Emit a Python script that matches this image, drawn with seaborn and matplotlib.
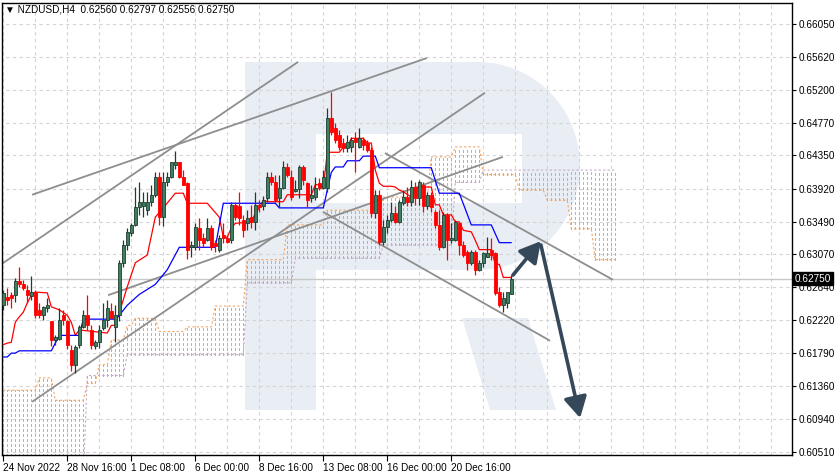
import numpy as np
import pandas as pd
import seaborn as sns
import matplotlib
matplotlib.use("Agg")
import matplotlib.pyplot as plt
from matplotlib.patches import Polygon, FancyArrowPatch

# ---------------- data ----------------
title = "\u25bc NZDUSD,H4  0.62560 0.62797 0.62556 0.62750"

opens = [.6241,.6252,.6254,.6254,.6272,.6268,.6261,.6253,.6258,.6235,
         .6229,.6238,.6220,.6196,.6197,.6229,.6220,.6183,.6164,.6190,
         .6213,.6228,.6209,.6188,.6194,.6212,.6222,.6233,.6213,.6229,
         .6296,.6319,.6335,.6345,.6368,.6369,.6364,.6374,.6384,.6407,
         .6355,.6400,.6407,.6423,.6426,.6407,.6399,.6316,.6316,.6341,
         .6328,.6326,.6341,.6322,.6313,.6332,.6328,.6326,.6371,.6369,
         .6351,.6347,.6355,.6349,.6371,.6369,.6380,.6407,.6400,.6380,
         .6393,.6420,.6407,.6389,.6392,.6420,.6399,.6380,.6381,.6399,
         .6393,.6393,.6484,.6470,.6462,.6451,.6445,.6446,.6457,.6446,
         .6455,.6451,.6442,.6361,.6384,.6323,.6342,.6351,.6361,.6349,
         .6373,.6381,.6374,.6394,.6380,.6397,.6369,.6384,.6362,.6345,
         .6316,.6358,.6326,.6326,.6348,.6319,.6310,.6296,.6310,.6287,
         .6296,.6304,.6313,.6309,.6258,.6241,.6244,.62560]
highs = [.6261,.6263,.6258,.6276,.6290,.6274,.6267,.6279,.6261,.6244,
         .6240,.6250,.6221,.6202,.6238,.6235,.6222,.6190,.6190,.6216,
         .6235,.6254,.6216,.6196,.6216,.6244,.6248,.6244,.6241,.6300,
         .6325,.6341,.6347,.6394,.6400,.6387,.6387,.6397,.6413,.6413,
         .6414,.6414,.6426,.6441,.6426,.6416,.6400,.6324,.6347,.6354,
         .6335,.6354,.6345,.6326,.6332,.6347,.6332,.6374,.6374,.6387,
         .6358,.6364,.6371,.6387,.6377,.6383,.6413,.6413,.6410,.6410,
         .6428,.6425,.6416,.6403,.6423,.6423,.6400,.6397,.6407,.6406,
         .6416,.6496,.6517,.6477,.6468,.6458,.6461,.6459,.6465,.6470,
         .6459,.6455,.6446,.6390,.6390,.6351,.6358,.6374,.6369,.6377,
         .6390,.6394,.6403,.6400,.6403,.6400,.6388,.6388,.6364,.6364,
         .6362,.6361,.6347,.6351,.6349,.6324,.6313,.6313,.6313,.6300,
         .6310,.6329,.6328,.6310,.6265,.6258,.6258,.62797]
lows = [.6235,.6241,.6238,.6245,.6264,.6261,.6244,.6248,.6225,.6225,
        .6222,.6232,.6188,.6190,.6196,.6216,.6184,.6156,.6153,.6186,
        .6212,.6209,.6184,.6184,.6186,.6209,.6213,.6225,.6193,.6220,
        .6290,.6313,.6331,.6344,.6358,.6355,.6358,.6369,.6381,.6345,
        .6344,.6395,.6406,.6417,.6406,.6396,.6301,.6303,.6313,.6313,
        .6316,.6324,.6313,.6310,.6310,.6322,.6322,.6322,.6351,.6345,
        .6329,.6338,.6341,.6338,.6362,.6364,.6374,.6397,.6374,.6368,
        .6392,.6407,.6377,.6388,.6380,.6397,.6368,.6374,.6377,.6390,
        .6392,.6388,.6461,.6451,.6442,.6440,.6440,.6440,.6414,.6445,
        .6442,.6440,.6355,.6354,.6319,.6319,.6335,.6349,.6348,.6348,
        .6371,.6369,.6369,.6371,.6371,.6362,.6366,.6362,.6341,.6313,
        .6315,.6300,.6322,.6324,.6306,.6304,.6287,.6293,.6280,.6285,
        .6291,.6304,.6300,.6254,.6239,.6232,.6238,.62556]
closes = [.6257,.6248,.6250,.6272,.6268,.6263,.6254,.6258,.6229,.6229,
          .6239,.6241,.6196,.6200,.6222,.6222,.6190,.6164,.6187,.6213,
          .6228,.6216,.6190,.6194,.6209,.6222,.6238,.6225,.6229,.6296,
          .6319,.6336,.6345,.6368,.6374,.6374,.6374,.6384,.6407,.6355,
          .6400,.6407,.6426,.6427,.6407,.6397,.6313,.6319,.6342,.6326,
          .6322,.6341,.6316,.6318,.6328,.6328,.6323,.6371,.6355,.6354,
          .6338,.6354,.6349,.6371,.6368,.6377,.6407,.6400,.6377,.6393,
          .6420,.6410,.6381,.6392,.6420,.6403,.6377,.6384,.6393,.6393,
          .6407,.6484,.6465,.6455,.6446,.6445,.6452,.6455,.6452,.6457,
          .6449,.6442,.6361,.6384,.6323,.6342,.6351,.6361,.6349,.6374,
          .6381,.6374,.6394,.6380,.6400,.6369,.6384,.6368,.6345,.6316,
          .6358,.6326,.6328,.6349,.6319,.6306,.6296,.6310,.6287,.6296,
          .6309,.6308,.6306,.6257,.6241,.6250,.6258,.62750]

# Ichimoku lines (bar index, price)
tenkan_bar = [0,1,2,3,4,5,6,7,8,11,12,14,16,17,18,19,26,27,28,29,30,31,33,36,38,40,43,45,46,51,52,54,55,56,57,58,62,63,64,65,66,70,71,77,78,79,80,81,84,85,86,87,90,91,92,93,94,95,97,98,99,100,102,103,104,107,108,109,110,112,113,114,115,117,118,119,122,123,124,125,127]
tenkan_val = [.6190,.6192,.6193,.6219,.6226,.6232,.6244,.6254,.6258,.6257,.6239,.6235,.6228,.6219,.6202,.6209,.6205,.6215,.6215,.6232,.6248,.6265,.6296,.6306,.6355,.6367,.6386,.6386,.6373,.6373,.6367,.6355,.6329,.6329,.6341,.6347,.6349,.6360,.6367,.6377,.6375,.6375,.6384,.6384,.6397,.6397,.6393,.6439,.6439,.6446,.6446,.6457,.6457,.6451,.6451,.6416,.6399,.6395,.6395,.6394,.6390,.6388,.6381,.6390,.6394,.6394,.6371,.6371,.6358,.6358,.6349,.6349,.6338,.6336,.6325,.6313,.6313,.6294,.6294,.6277,.6277]
kijun_bar = [0,1,2,3,4,12,14,19,20,28,29,31,34,38,41,44,53,55,63,68,69,80,82,83,85,86,89,90,93,94,107,109,114,117,122,124,127]
kijun_val = [.6174,.6174,.6179,.6179,.6182,.6182,.6202,.6202,.6223,.6223,.6228,.6241,.6255,.6268,.6287,.6316,.6316,.6373,.6373,.6373,.6367,.6367,.6413,.6420,.6420,.6428,.6428,.6434,.6434,.6419,.6419,.6386,.6386,.6345,.6345,.6322,.6322]

# cloud spans as runs (value, number of bars)
span_a_runs = [(.6131,9),(.6147,4),(.6118,8),(.6140,3),(.6164,3),(.6196,4),(.6215,2),(.6224,6),(.6207,7),(.6213,7),(.6240,8),(.6300,10),(.6345,10),(.6364,14),(.6381,12),(.6433,6),(.6446,7),(.6410,9),(.6390,7),(.6377,6),(.6340,6),(.6300,6)]
span_b_runs = [(.6015,21),(.6150,10),(.6177,30),(.6270,12),(.6302,22),(.6319,18),(.6400,7),(.6416,34)]

x_tick_bars = [0,16,32,48,64,80,96,112]
x_tick_labels = ["24 Nov 2022","28 Nov 16:00","1 Dec 08:00","6 Dec 00:00","8 Dec 16:00","13 Dec 08:00","16 Dec 00:00","20 Dec 16:00"]
y_ticks = [0.66050,0.65620,0.65200,0.64770,0.64350,0.63920,0.63490,0.63070,0.62640,0.62220,0.61790,0.61360,0.60940,0.60510]
last_price = 0.62750

# trend lines and arrows (bar, price) pairs
trend_lines = [((7.2,.6384),(105.9,.6561)),((-0.8,.6293),(73.7,.6556)),((7.2,.6116),(120.4,.6516)),
               ((26.2,.6254),(124.9,.6433)),((95.4,.6438),(152.4,.6274)),((79.9,.6362),(136.7,.6195))]
arrows = [((127.4,.6280),(134.4,.6324)),((134.4,.6319),(144.2,.6095))]

# ---------------- figure ----------------
sns.set_style("white")
plt.rcParams['font.family'] = ['Liberation Sans', 'DejaVu Sans']
W, H = 838, 475
fig = plt.figure(figsize=(W/100, H/100), dpi=100)
ax = fig.add_axes([2/W, 20/H, 790/W, 452/H])
ax.set_xlim(-0.325, 197.175)
ax.set_ylim(0.604715, 0.663222)
ax.patch.set_facecolor('white')

def fpx(x, y):
    return (x / W, 1 - y / H)

wm = '#e9eef4'
# watermark "R"
stem = Polygon([fpx(245,62), fpx(316,62), fpx(316,410), fpx(245,410)], closed=True,
               transform=fig.transFigure, color=wm, zorder=0.1, lw=0)
ang = np.linspace(np.pi/2, -np.pi/2, 40)
bowl_pts = [fpx(245,62), fpx(478,62)] + [fpx(478+102*np.cos(a), 166-104*np.sin(a)) for a in ang] + [fpx(245,270)]
bowl = Polygon(bowl_pts, closed=True, transform=fig.transFigure, color=wm, zorder=0.1, lw=0)
hole = Polygon([fpx(316,134), fpx(522,134), fpx(522,203), fpx(316,203)], closed=True,
               transform=fig.transFigure, color='white', zorder=0.15, lw=0)
leg = Polygon([fpx(462,318), fpx(528,318), fpx(556,410), fpx(490,410)], closed=True,
              transform=fig.transFigure, color=wm, zorder=0.1, lw=0)
for p in (stem, bowl, leg, hole):
    ax.add_patch(p)

# grid
grid_kw = dict(color='#d4d4d4', lw=0.8, linestyles=(0, (3, 3)), zorder=0.5)
ax.vlines(np.arange(0, 197, 8), 0.6047, 0.6633, **grid_kw)
ax.hlines(y_ticks, -1, 198, **grid_kw)

# bid line
ax.axhline(last_price, color='#c8c8c8', lw=1, zorder=0.6)

# cloud
span_a = np.concatenate([np.full(n, v) for v, n in span_a_runs])
span_b = np.concatenate([np.full(n, v) for v, n in span_b_runs])
nb = min(len(span_a), len(span_b))
span_a, span_b = span_a[:nb], span_b[:nb]
cb = np.arange(nb)
up = span_a >= span_b
ax.vlines(cb[up], span_b[up], span_a[up], color='#f4a460', lw=0.8, linestyles=(0, (2, 2)),
          zorder=1, antialiased=False)
ax.vlines(cb[~up], span_a[~up], span_b[~up], color='#c8a8c8', lw=0.8, linestyles=(0, (2, 2)),
          zorder=1, antialiased=False)
ax.plot(cb, span_a, color='#f4a460', lw=0.8, ls=(0, (2, 2)), zorder=1.1)
ax.plot(cb, span_b, color='#c8a8c8', lw=0.8, ls=(0, (2, 2)), zorder=1.1)

# trend lines
for (x0, y0), (x1, y1) in trend_lines:
    ax.plot([x0, x1], [y0, y1], color='#8e8e8e', lw=1.3, zorder=2, solid_capstyle='butt')

# tenkan / kijun
sns.lineplot(x=tenkan_bar, y=tenkan_val, ax=ax, color='#ff0000', lw=0.9, estimator=None, sort=False, zorder=3)
sns.lineplot(x=kijun_bar, y=kijun_val, ax=ax, color='#0000ff', lw=0.9, estimator=None, sort=False, zorder=3)

# candles
df = pd.DataFrame({'o': opens, 'h': highs, 'l': lows, 'c': closes})
df['i'] = np.arange(len(df))
bull = df[df.c >= df.o]
bear = df[df.c < df.o]
ax.vlines(bull.i, bull.l, bull.h, color='#1f3d2f', lw=0.9, zorder=4)
ax.vlines(bear.i, bear.l, bear.h, color='#ff0000', lw=0.9, zorder=4)
ax.bar(bull.i, np.maximum(bull.c - bull.o, 0.00005), bottom=bull.o, width=0.62,
       color='#3f7f62', edgecolor='#1f3d2f', lw=0.6, zorder=5)
ax.bar(bear.i, np.maximum(bear.o - bear.c, 0.00005), bottom=bear.c, width=0.62,
       color='#ff0000', edgecolor='#ff0000', lw=0.6, zorder=5)

# arrows
for (x0, y0), (x1, y1) in arrows:
    ar = FancyArrowPatch((x0, y0), (x1, y1), arrowstyle='-|>,head_length=0.9,head_width=0.5',
                         mutation_scale=14, color='#35485a', lw=2.6, zorder=6, shrinkA=0, shrinkB=0)
    ax.add_patch(ar)

# axes styling
for s in ax.spines.values():
    s.set_color('black'); s.set_linewidth(1.0); s.set_visible(True)
ax.yaxis.tick_right()
ax.set_yticks(y_ticks)
ax.set_yticklabels([f"{v:.5f}" for v in y_ticks])
ax.tick_params(axis='y', direction='out', length=3, width=0.8, pad=2, labelsize=7.2, colors='black', right=True, left=False)
ax.set_xticks(x_tick_bars)
ax.set_xticklabels(x_tick_labels, ha='left')
ax.tick_params(axis='x', direction='out', length=4, width=0.8, pad=2, labelsize=7.2, colors='black', bottom=True)
ax.set_xlabel(''); ax.set_ylabel('')

# current price box
ax.text(1.0035, last_price, f"{last_price:.5f}", transform=ax.get_yaxis_transform(),
        ha='left', va='center', fontsize=7.2, color='white', zorder=10, clip_on=False,
        bbox=dict(boxstyle='square,pad=0.15', fc='black', ec='black'))

fig.text(5/W, 1 - 10/H, title, ha='left', va='center', fontsize=7.2, color='black')

fig.savefig('out.png', dpi=100)
